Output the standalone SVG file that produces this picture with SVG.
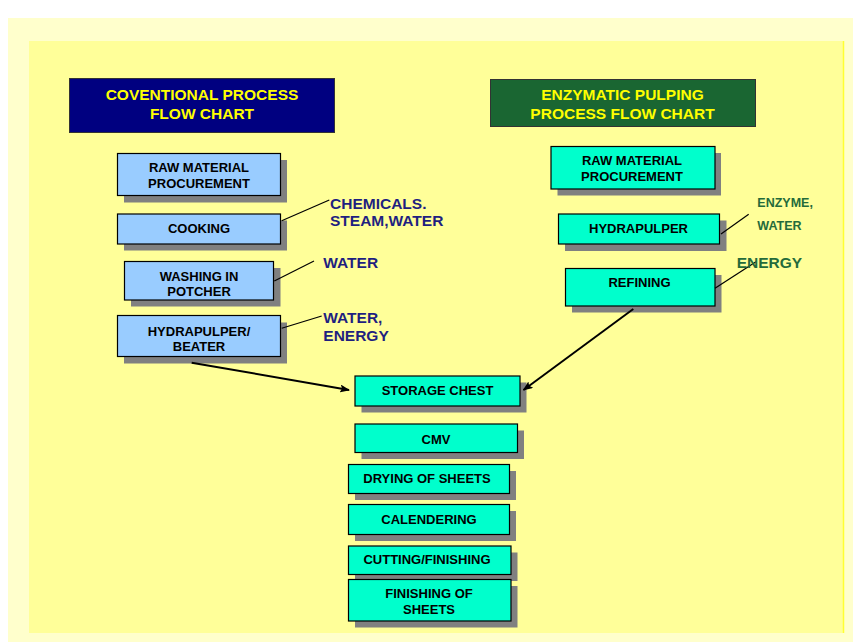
<svg xmlns="http://www.w3.org/2000/svg" width="853" height="642" viewBox="0 0 853 642">
<style>
.bt{font-family:"Liberation Sans",Arial,sans-serif;font-weight:bold;font-size:13px;fill:#000;text-anchor:middle}
.ht{font-family:"Liberation Sans",Arial,sans-serif;font-weight:bold;font-size:15.5px;fill:#FFFF00;text-anchor:middle}
.lb{font-family:"Liberation Sans",Arial,sans-serif;font-weight:bold;font-size:15.5px;fill:#1F1F80}
.lg{font-family:"Liberation Sans",Arial,sans-serif;font-weight:bold;fill:#246B3B}
.sh{fill:#808080}
.bl{fill:#99CCFF;stroke:#000;stroke-width:1.2}
.aq{fill:#00FFCC;stroke:#000;stroke-width:1.2}
.ln{stroke:#000;stroke-width:1.2;fill:none}
.ar{stroke:#000;stroke-width:2;fill:none}
</style>
<defs>
<marker id="ah" markerWidth="10" markerHeight="8" refX="9" refY="4" orient="auto" markerUnits="userSpaceOnUse">
<path d="M0,0 L10,4 L0,8 L2,4 Z" fill="#000"/>
</marker>
</defs>
<rect x="0" y="0" width="853" height="642" fill="#FFFFFF"/>
<rect x="8" y="18" width="845" height="624" fill="#FFFFCC"/>
<rect x="29" y="41" width="814" height="592" fill="#FFFF99"/>
<line x1="843.5" y1="41" x2="843.5" y2="633" stroke="#FFFF33" stroke-width="1.5"/>

<g id="header-conventional">
<rect x="69.5" y="78.5" width="265" height="54" fill="#000080" stroke="#333" stroke-width="1"/>
<text class="ht" x="202" y="99.5">COVENTIONAL PROCESS</text>
<text class="ht" x="202" y="119">FLOW CHART</text>
</g>
<g id="header-enzymatic">
<rect x="490.5" y="79.5" width="265" height="47" fill="#1A6632" stroke="#333" stroke-width="1"/>
<text class="ht" x="622.5" y="99.5">ENZYMATIC PULPING</text>
<text class="ht" x="622.5" y="119">PROCESS FLOW CHART</text>
</g>

<g id="c-raw">
<rect class="sh" x="124" y="160" width="163" height="42.5"/>
<rect class="bl" x="117.5" y="153.5" width="163" height="42"/>
<text class="bt" x="199" y="172">RAW MATERIAL</text>
<text class="bt" x="199" y="188">PROCUREMENT</text>
</g>
<g id="c-cooking">
<rect class="sh" x="124" y="220.5" width="163" height="30"/>
<rect class="bl" x="117.5" y="214" width="163" height="30"/>
<text class="bt" x="199" y="232.7">COOKING</text>
</g>
<g id="c-washing">
<rect class="sh" x="131" y="268" width="149.5" height="38.5"/>
<rect class="bl" x="124.5" y="261.5" width="149" height="38.5"/>
<text class="bt" x="199" y="280.5">WASHING IN</text>
<text class="bt" x="199" y="295.7">POTCHER</text>
</g>
<g id="c-hydrapulper">
<rect class="sh" x="124" y="322.5" width="163" height="41"/>
<rect class="bl" x="117.5" y="315.5" width="163" height="41"/>
<text class="bt" x="199" y="335.5">HYDRAPULPER/</text>
<text class="bt" x="199" y="351">BEATER</text>
</g>

<g id="c-labels">
<line class="ln" x1="281.7" y1="220.7" x2="329.3" y2="200"/>
<text class="lb" x="330" y="209">CHEMICALS.</text>
<text class="lb" x="330" y="226.3">STEAM,WATER</text>
<line class="ln" x1="274.3" y1="281" x2="314" y2="261"/>
<text class="lb" x="323.3" y="268.3">WATER</text>
<line class="ln" x1="281.7" y1="328.3" x2="321.7" y2="316"/>
<text class="lb" x="323.3" y="323.3">WATER,</text>
<text class="lb" x="323.3" y="341.3">ENERGY</text>
</g>

<g id="e-raw">
<rect class="sh" x="557.5" y="153" width="163.5" height="42.5"/>
<rect class="aq" x="551" y="146.5" width="164" height="42.5"/>
<text class="bt" x="632" y="165.3">RAW MATERIAL</text>
<text class="bt" x="632" y="181.3">PROCUREMENT</text>
</g>
<g id="e-hydrapulper">
<rect class="sh" x="565" y="220.5" width="161.5" height="30.5"/>
<rect class="aq" x="558.5" y="214" width="161" height="30"/>
<text class="bt" x="638.5" y="233">HYDRAPULPER</text>
</g>
<g id="e-refining">
<rect class="sh" x="572" y="275" width="149.5" height="37.5"/>
<rect class="aq" x="565.5" y="268.5" width="149.5" height="37.5"/>
<text class="bt" x="639.5" y="287">REFINING</text>
</g>

<g id="e-labels">
<line class="ln" x1="721" y1="234" x2="748.7" y2="214.3"/>
<text class="lg" x="757.3" y="206.8" font-size="12.5px">ENZYME,</text>
<text class="lg" x="757.3" y="230.2" font-size="12.5px">WATER</text>
<line class="ln" x1="715" y1="288.3" x2="756" y2="261.7"/>
<text class="lg" x="736.7" y="268.3" font-size="15.5px">ENERGY</text>
</g>

<g id="storage-chest">
<rect class="sh" x="361.5" y="382.5" width="165" height="30"/>
<rect class="aq" x="355" y="376" width="165" height="30"/>
<text class="bt" x="437.5" y="395.3">STORAGE CHEST</text>
</g>
<g id="cmv">
<rect class="sh" x="361.5" y="430.5" width="162.5" height="28.5"/>
<rect class="aq" x="355" y="424" width="162.5" height="28.5"/>
<text class="bt" x="436" y="443.7">CMV</text>
</g>
<g id="drying">
<rect class="sh" x="355" y="471" width="161" height="29"/>
<rect class="aq" x="348.5" y="464.5" width="161" height="29"/>
<text class="bt" x="427" y="483.3">DRYING OF SHEETS</text>
</g>
<g id="calendering">
<rect class="sh" x="355" y="511" width="161" height="30"/>
<rect class="aq" x="348.5" y="504.5" width="161" height="30"/>
<text class="bt" x="429" y="524">CALENDERING</text>
</g>
<g id="cutting">
<rect class="sh" x="355" y="552.5" width="162.5" height="28.5"/>
<rect class="aq" x="348.5" y="546" width="162.5" height="28.5"/>
<text class="bt" x="427" y="564">CUTTING/FINISHING</text>
</g>
<g id="finishing">
<rect class="sh" x="355" y="586" width="162.5" height="41.5"/>
<rect class="aq" x="348.5" y="579.5" width="162.5" height="41.5"/>
<text class="bt" x="429" y="598">FINISHING OF</text>
<text class="bt" x="429" y="614">SHEETS</text>
</g>

<g id="connectors">
<line class="ar" x1="191.7" y1="362.7" x2="349" y2="390" marker-end="url(#ah)"/>
<line class="ar" x1="633.3" y1="309" x2="523.5" y2="390" marker-end="url(#ah)"/>
</g>
</svg>
